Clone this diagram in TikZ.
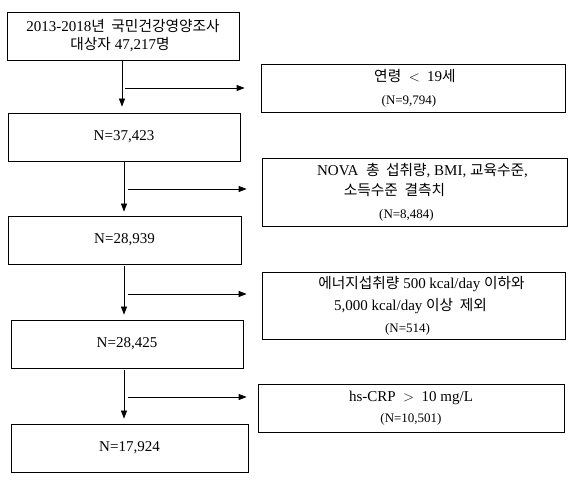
\documentclass[tikz,border=0pt]{standalone}
\usepackage{fontspec}
\setmainfont{Liberation Serif}
\newfontfamily\kr[Scale=0.98]{Noto Sans CJK KR}
\usetikzlibrary{arrows.meta}
\begin{document}
\begin{tikzpicture}[x=1pt,y=1pt,
  box/.style={draw, line width=0.8pt, inner sep=0pt, align=center,
    font=\fontsize{15}{18}\selectfont},
  arr/.style={line width=0.8pt, -{Triangle[length=8pt,width=6pt]}},
]
\newcommand\nsmall{\fontsize{13}{18}\selectfont}
\useasboundingbox (0,0) rectangle (576,486);
\fill[white] (0,0) rectangle (576,486);
% left column
\node[box, minimum width=232, minimum height=48] (b1) at (123,450)
  {2013-2018{\kr 년\ \ 국민건강영양조사}\\\hspace*{-6pt}{\kr 대상자}\ 47,217{\kr 명}};
\node[box, minimum width=232, minimum height=48] (b2) at (124,349) {N=37,423};
\node[box, minimum width=233, minimum height=48] (b3) at (124.5,246) {N=28,939};
\node[box, minimum width=232, minimum height=48] (b4) at (127,142) {N=28,425};
\node[box, minimum width=237, minimum height=48] (b5) at (129.5,38) {N=17,924};
% right column
\node[box, minimum width=304, minimum height=48] (e1) at (413,398)
  {\hspace*{4pt}{\kr 연령}\ \ $<$\ \ 19{\kr 세}\\[5pt]\hspace*{-8pt}{\nsmall (N=9,794)}};
\node[box, minimum width=305, minimum height=68] (e2) at (414.5,294)
  {\hspace*{16pt}NOVA\ \ {\kr 총\ \ 섭취량}, BMI, {\kr 교육수준},\\[2pt]
   \hspace*{-40pt}{\kr 소득수준\ \ 결측치}\\[5pt]\hspace*{-16pt}{\nsmall (N=8,484)}};
\node[box, minimum width=303, minimum height=67] (e3) at (413.5,180.5)
  {\hspace*{16pt}{\kr 에너지섭취량} 500 kcal/day {\kr 이하와}\\[4pt]
   \hspace*{-6pt}5,000 kcal/day {\kr 이상\ \ 제외}\\[4pt]\hspace*{-12pt}{\nsmall (N=514)}};
\node[box, minimum width=306, minimum height=48] (e4) at (411,78)
  {hs-CRP\ \ $>$\ \ 10\ mg/L\\[3pt]{\nsmall (N=10,501)}};
% vertical arrows
\coordinate (v1) at (122,426);
\coordinate (v2) at (124,325);
\coordinate (v3) at (124,220);
\coordinate (v4) at (124,116);
\draw[arr, shorten >=6pt] (v1) -- (v1 |- b2.north);
\draw[arr, shorten >=4pt] (v2) -- (v2 |- b3.north);
\draw[arr, shorten >=5pt] (v3) -- (v3 |- b4.north);
\draw[arr, shorten >=5pt] (v4) -- (v4 |- b5.north);
% horizontal arrows
\coordinate (h1) at (125,398);
\coordinate (h2) at (128,297);
\coordinate (h3) at (128,192);
\coordinate (h4) at (128,89);
\draw[arr, shorten >=16pt] (h1) -- (h1 -| e1.west);
\draw[arr, shorten >=15pt] (h2) -- (h2 -| e2.west);
\draw[arr, shorten >=15pt] (h3) -- (h3 -| e3.west);
\draw[arr, shorten >=11pt] (h4) -- (h4 -| e4.west);
\end{tikzpicture}
\end{document}
